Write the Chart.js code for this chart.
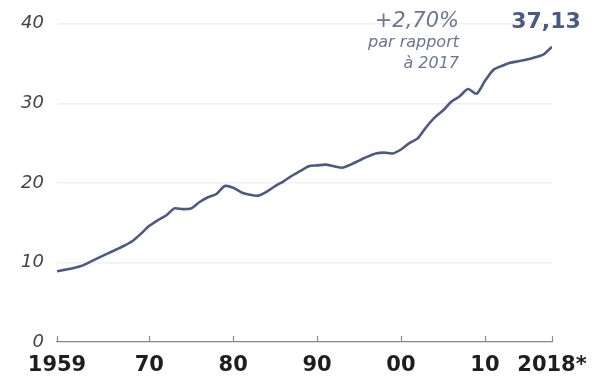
<!DOCTYPE html>
<html>
<head>
<meta charset="utf-8">
<script src="https://cdn.jsdelivr.net/npm/chart.js@4/dist/chart.umd.min.js"></script>
<style>
  html, body { margin: 0; padding: 0; background: #fff; }
  #wrap { width: 608px; height: 377px; }
</style>
</head>
<body>
<div id="wrap"><canvas id="chart" width="608" height="377"></canvas></div>
<script>
// yearly series, 1959 -> 2018 (last year provisional)
const years = [];
for (let y = 1959; y <= 2018; y++) years.push(y);
const values = [
  8.9, 9.1, 9.3, 9.6, 10.1, 10.6, 11.1, 11.6, 12.1, 12.7,
  13.6, 14.6, 15.3, 15.9, 16.8, 16.7, 16.8, 17.6, 18.2, 18.6,
  19.6, 19.4, 18.8, 18.5, 18.4, 18.9, 19.6, 20.2, 20.9, 21.5,
  22.1, 22.2, 22.3, 22.1, 21.9, 22.3, 22.8, 23.3, 23.7, 23.8,
  23.7, 24.2, 25.0, 25.6, 27.0, 28.2, 29.1, 30.2, 30.9, 31.8,
  31.2, 32.8, 34.2, 34.7, 35.1, 35.3, 35.5, 35.8, 36.15, 37.13
];
const xTicks = [1959, 1970, 1980, 1990, 2000, 2010, 2018];
const yTicks = [0, 10, 20, 30, 40];
const changeLines = ['+2,70%', 'par rapport', 'à 2017'];

const lineColor = '#4b5a82';

function xLabel(v) {
  if (v === 1959) return '1959';
  if (v === 2018) return '2018*';
  return String(v).slice(2);
}

// small upward tick marks on the x axis + top-right annotation
const decorations = {
  id: 'decorations',
  afterDraw(chart) {
    const { ctx, scales: { x, y } } = chart;
    const base = y.getPixelForValue(0);
    ctx.save();
    ctx.strokeStyle = '#8a8a8a';
    ctx.lineWidth = 1.2;
    xTicks.forEach(t => {
      const px = Math.round(x.getPixelForValue(t)) + 0.5;
      ctx.beginPath();
      ctx.moveTo(px, base);
      ctx.lineTo(px, base - 6);
      ctx.stroke();
    });

    const last = values[values.length - 1];
    const lx = x.getPixelForValue(years[years.length - 1]);
    ctx.fillStyle = lineColor;
    ctx.font = 'bold 22px "DejaVu Sans"';
    ctx.textAlign = 'center';
    ctx.textBaseline = 'middle';
    ctx.fillText(last.toFixed(2).replace('.', ','), lx - 6, 22);

    ctx.fillStyle = '#6a7694';
    ctx.textAlign = 'right';
    ctx.font = 'italic 21px "DejaVu Sans"';
    ctx.fillText(changeLines[0], 459, 22);
    ctx.font = 'italic 16px "DejaVu Sans"';
    ctx.fillText(changeLines[1], 459, 43);
    ctx.fillText(changeLines[2], 459, 64);
    ctx.restore();
  }
};

new Chart(document.getElementById('chart'), {
  type: 'line',
  data: {
    datasets: [{
      data: years.map((yr, i) => ({ x: yr, y: values[i] })),
      borderColor: lineColor,
      borderWidth: 2.6,
      pointRadius: 0,
      tension: 0.25,
      fill: false
    }]
  },
  options: {
    responsive: false,
    animation: false,
    layout: { padding: { top: 18, right: 56, left: 0, bottom: 0 } },
    plugins: { legend: { display: false }, tooltip: { enabled: false } },
    scales: {
      x: {
        type: 'linear',
        min: 1959,
        max: 2018,
        afterBuildTicks: s => { s.ticks = xTicks.map(v => ({ value: v })); },
        afterFit: s => { s.height = 35; },
        grid: { display: false, drawTicks: false },
        border: { display: true, color: '#8a8a8a', width: 1.2 },
        ticks: {
          autoSkip: false,
          maxRotation: 0,
          padding: 11,
          color: '#1e1e1e',
          font: { family: 'DejaVu Sans', size: 21, weight: 'bold' },
          callback: v => xLabel(v)
        }
      },
      y: {
        min: 0,
        max: 40,
        afterBuildTicks: s => { s.ticks = yTicks.map(v => ({ value: v })); },
        afterFit: s => { s.width = 57; },
        grid: { color: '#f0f0f0', lineWidth: 1.5, drawTicks: false },
        border: { display: false },
        ticks: {
          padding: 13,
          color: '#444',
          font: { family: 'DejaVu Sans', size: 18, style: 'italic' }
        }
      }
    }
  },
  plugins: [decorations]
});
</script>
</body>
</html>
